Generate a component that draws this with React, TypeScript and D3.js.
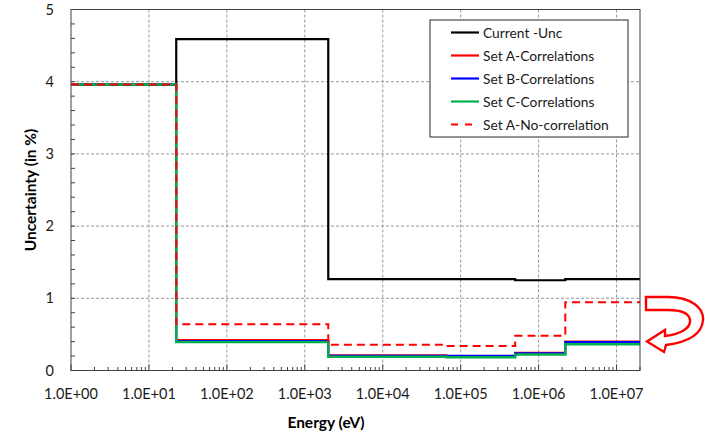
import { useEffect, useRef } from 'react';
import * as d3 from 'd3';

// group boundaries in eV
const edges = [1, 22.4, 2000, 6.6e4, 5e5, 2.2e6, 2e7];

const currentUnc = [3.96, 4.59, 1.265, 1.265, 1.25, 1.265];
const setACorr = [3.96, 0.422, 0.21, 0.2, 0.245, 0.4];
const setBCorr = [3.96, 0.41, 0.205, 0.205, 0.24, 0.395];
const setCCorr = [3.96, 0.395, 0.19, 0.183, 0.22, 0.365];
const setANoCorr = [3.96, 0.64, 0.357, 0.34, 0.48, 0.945];

const xTicks = [1, 10, 100, 1e3, 1e4, 1e5, 1e6, 1e7];
const yTicks = [0, 1, 2, 3, 4, 5];

const seriesList = [
  { name: 'Current -Unc', values: currentUnc, color: '#000000', width: 2.2, dash: '' },
  { name: 'Set A-Correlations', values: setACorr, color: '#ff0000', width: 2, dash: '' },
  { name: 'Set B-Correlations', values: setBCorr, color: '#0000ff', width: 2, dash: '' },
  { name: 'Set C-Correlations', values: setCCorr, color: '#00b050', width: 2.5, dash: '' },
  { name: 'Set A-No-correlation', values: setANoCorr, color: '#ff0000', width: 2, dash: '8,5' },
];

const FONT = 'Lato, "Open Sans", sans-serif';

const App = () => {
  const svgRef = useRef<SVGSVGElement>(null);

  useEffect(() => {
    if (!svgRef.current) return;
    const svg = d3.select(svgRef.current);
    svg.selectAll('*').remove();

    const x = d3.scaleLog().domain([1, 2e7]).range([71, 640]);
    const y = d3.scaleLinear().domain([0, 5]).range([370.5, 9.5]);
    const [x0, x1] = x.range();
    const [yb, yt] = y.range();

    svg.append('rect').attr('width', 705).attr('height', 438).attr('fill', '#fff');

    // grid
    const grid = svg.append('g').attr('stroke', '#999').attr('stroke-width', 1).attr('stroke-dasharray', '3,2');
    xTicks.slice(1).forEach(t => {
      grid.append('line').attr('x1', x(t)).attr('x2', x(t)).attr('y1', yt).attr('y2', yb);
    });
    yTicks.slice(1, -1).forEach(t => {
      grid.append('line').attr('x1', x0).attr('x2', x1).attr('y1', y(t)).attr('y2', y(t));
    });

    // minor / major ticks
    const ticks = svg.append('g').attr('stroke', '#404040').attr('stroke-width', 1);
    for (let d = 0; d < 8; d++) {
      for (let m = 2; m <= 9; m++) {
        const v = m * Math.pow(10, d);
        if (v > 2e7) break;
        ticks.append('line').attr('x1', x(v)).attr('x2', x(v)).attr('y1', yb).attr('y2', yb - 3.5);
      }
    }
    xTicks.forEach(t => {
      ticks.append('line').attr('x1', x(t)).attr('x2', x(t)).attr('y1', yb).attr('y2', yb - 6);
    });
    d3.range(0, 5.01, 0.2).forEach(v => {
      ticks.append('line').attr('x1', x0).attr('x2', x0 + 4).attr('y1', y(v)).attr('y2', y(v));
    });

    // series as step lines
    const line = d3.line<[number, number]>()
      .x(d => x(d[0]))
      .y(d => y(d[1]))
      .curve(d3.curveStepAfter);

    seriesList.forEach(s => {
      const pts: [number, number][] = s.values.map((v, i) => [edges[i], v]);
      pts.push([edges[edges.length - 1], s.values[s.values.length - 1]]);
      svg.append('path')
        .attr('d', line(pts))
        .attr('fill', 'none')
        .attr('stroke', s.color)
        .attr('stroke-width', s.width)
        .attr('stroke-dasharray', s.dash || null);
    });

    // frame
    svg.append('rect')
      .attr('x', x0).attr('y', yt)
      .attr('width', x1 - x0).attr('height', yb - yt)
      .attr('fill', 'none').attr('stroke', '#404040').attr('stroke-width', 1);

    // tick labels
    svg.append('g').selectAll('text').data(xTicks).join('text')
      .attr('x', d => x(d)).attr('y', 398.5)
      .attr('text-anchor', 'middle')
      .attr('font-family', FONT).attr('font-size', 14.5).attr('fill', '#1a1a1a')
      .text(d => `1.0E+${String(Math.round(Math.log10(d))).padStart(2, '0')}`);

    svg.append('g').selectAll('text').data(yTicks).join('text')
      .attr('x', 54).attr('y', d => y(d) + 5)
      .attr('text-anchor', 'end')
      .attr('font-family', FONT).attr('font-size', 14.5).attr('fill', '#1a1a1a')
      .text(d => d);

    // axis titles
    svg.append('text')
      .attr('x', 326).attr('y', 428)
      .attr('text-anchor', 'middle')
      .attr('font-family', FONT).attr('font-size', 15.5).attr('font-weight', 'bold')
      .text('Energy (eV)');
    svg.append('text')
      .attr('transform', `translate(36,${(yt + yb) / 2}) rotate(-90)`)
      .attr('text-anchor', 'middle')
      .attr('font-family', FONT).attr('font-size', 15.5).attr('font-weight', 'bold')
      .text('Uncertainty (in %)');

    // legend
    const lg = svg.append('g');
    lg.append('rect').attr('x', 430).attr('y', 20).attr('width', 198).attr('height', 117)
      .attr('fill', '#fff').attr('stroke', '#262626').attr('stroke-width', 1);
    seriesList.forEach((s, i) => {
      const cy = 32.5 + i * 23;
      lg.append('line').attr('x1', 451).attr('x2', 479).attr('y1', cy).attr('y2', cy)
        .attr('stroke', s.color).attr('stroke-width', 2.2)
        .attr('stroke-dasharray', s.dash ? '7,7' : null);
      lg.append('text').attr('x', 483).attr('y', cy + 5)
        .attr('font-family', FONT).attr('font-size', 13.8).attr('fill', '#1a1a1a')
        .text(s.name);
    });

    // curved annotation arrow
    svg.append('path')
      .attr('d', 'M646,297 L668,297 C691,297 704,308 703,320 C702,334 689,342 666,345 L664,352 L647,341.5 L665,330 L665,336 C681,334 691,328 690,320 C689,313 680,310 668,310 L646,310 Z')
      .attr('fill', '#fff').attr('stroke', '#ff0000').attr('stroke-width', 2.4)
      .attr('stroke-linejoin', 'miter');
  }, []);

  return (
    <svg ref={svgRef} width={705} height={438} style={{ position: 'absolute', left: 0, top: 0 }} />
  );
};

export default App;
